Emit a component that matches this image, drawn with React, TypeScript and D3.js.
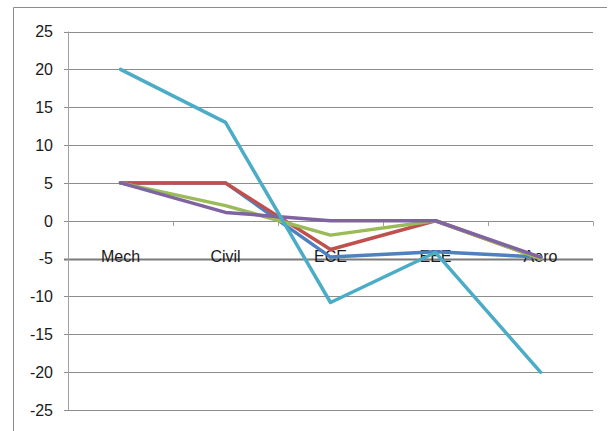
import React, { useEffect, useRef } from "react";
import * as d3 from "d3";

const categories = ["Mech", "Civil", "ECE", "EEE", "Aero"];
const yTicks = [25, 20, 15, 10, 5, 0, -5, -10, -15, -20, -25];

const seriesBlue = [5, 5, -4.8, -4.1, -4.8];
const seriesRed = [5, 5, -3.8, 0, -5];
const seriesGreen = [5, 2, -1.9, 0, -5];
const seriesPurple = [5, 1.1, 0, 0, -4.8];
const seriesCyan = [20, 13, -10.8, -4.2, -20];

const series = [
  { name: "blue", color: "#4F81BD", values: seriesBlue },
  { name: "red", color: "#C0504D", values: seriesRed },
  { name: "green", color: "#9BBB59", values: seriesGreen },
  { name: "purple", color: "#8064A2", values: seriesPurple },
  { name: "cyan", color: "#4BACC6", values: seriesCyan },
];

export default function App() {
  const svgRef = useRef<SVGSVGElement>(null);

  useEffect(() => {
    if (!svgRef.current) return;
    const width = 610;
    const height = 431;
    const marginLeft = 68;
    const marginRight = 17;
    const marginTop = 31.5;
    const plotBottom = 410;

    const svg = d3.select(svgRef.current);
    svg.selectAll("*").remove();
    svg.attr("width", width).attr("height", height).attr("viewBox", [0, 0, width, height]);

    svg.append("rect").attr("width", width).attr("height", height).attr("fill", "white");

    // outer frame (only left and top visible)
    svg.append("path")
      .attr("d", `M13.5,${height} L13.5,7.5 L607,7.5`)
      .attr("fill", "none")
      .attr("stroke", "#8c8c8c")
      .attr("stroke-width", 1);

    const x = d3.scaleBand<string>()
      .domain(categories)
      .range([marginLeft, width - marginRight]);

    const y = d3.scaleLinear()
      .domain([-25, 25])
      .range([plotBottom, marginTop]);

    // gridlines
    const grid = svg.append("g");
    grid.selectAll("line")
      .data(yTicks)
      .join("line")
      .attr("x1", marginLeft - 4)
      .attr("x2", width - marginRight)
      .attr("y1", d => Math.round(y(d)) + 0.5)
      .attr("y2", d => Math.round(y(d)) + 0.5)
      .attr("stroke", d => (d === -5 ? "#7a7a7a" : "#8c8c8c"))
      .attr("stroke-width", d => (d === -5 ? 2 : 1));

    // y axis line
    svg.append("line")
      .attr("x1", marginLeft + 0.5)
      .attr("x2", marginLeft + 0.5)
      .attr("y1", marginTop)
      .attr("y2", plotBottom)
      .attr("stroke", "#a0a0a0");

    // y tick labels
    svg.append("g")
      .selectAll("text")
      .data(yTicks)
      .join("text")
      .attr("x", 53)
      .attr("y", d => y(d))
      .attr("dy", "0.36em")
      .attr("text-anchor", "end")
      .attr("font-family", "Liberation Sans, Arial, sans-serif")
      .attr("font-size", 16)
      .attr("fill", "#1a1a1a")
      .text(d => d);

    // category tick marks on zero axis
    const bounds = categories.map(c => x(c)!).concat([width - marginRight]).slice(1);
    svg.append("g")
      .selectAll("line")
      .data(bounds)
      .join("line")
      .attr("x1", d => Math.round(d) + 0.5)
      .attr("x2", d => Math.round(d) + 0.5)
      .attr("y1", Math.round(y(0)) + 0.5)
      .attr("y2", Math.round(y(0)) + 5)
      .attr("stroke", "#a0a0a0");

    // category labels
    svg.append("g")
      .selectAll("text")
      .data(categories)
      .join("text")
      .attr("x", d => x(d)! + x.bandwidth() / 2)
      .attr("y", 262)
      .attr("text-anchor", "middle")
      .attr("font-family", "Liberation Sans, Arial, sans-serif")
      .attr("font-size", 16)
      .attr("fill", "#1a1a1a")
      .text(d => d);

    const line = d3.line<number>()
      .x((_, i) => x(categories[i])! + x.bandwidth() / 2)
      .y(d => y(d));

    svg.append("g")
      .selectAll("path")
      .data(series)
      .join("path")
      .attr("d", d => line(d.values))
      .attr("fill", "none")
      .attr("stroke", d => d.color)
      .attr("stroke-width", 3.5)
      .attr("stroke-linejoin", "round")
      .attr("stroke-linecap", "round");
  }, []);

  return (
    <svg ref={svgRef} style={{ position: "absolute", left: 0, top: 0 }}></svg>
  );
}
